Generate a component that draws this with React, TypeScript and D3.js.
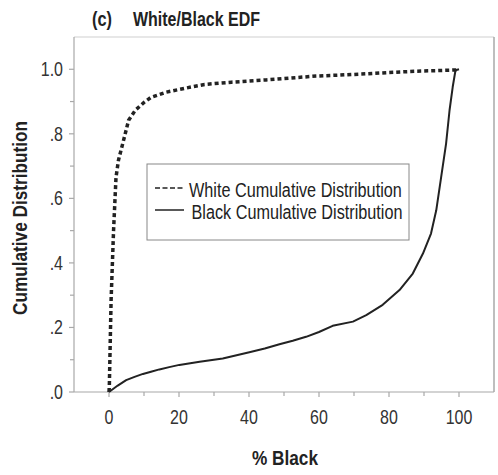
import React from "react";
import * as d3 from "d3";

// White cumulative distribution (x = % Black, y = cumulative share)
const whiteX = [0, 0.1, 0.6, 1.3, 2.0, 2.7, 4.4, 5.6, 7.5, 10.1, 12, 16.3, 21.6, 27.3, 35, 44.9, 52, 59.2, 66, 73.5, 80, 87.8, 94, 99.2, 100];
const whiteY = [0, 0.02, 0.285, 0.5, 0.665, 0.718, 0.79, 0.842, 0.873, 0.898, 0.913, 0.929, 0.941, 0.953, 0.96, 0.967, 0.973, 0.979, 0.982, 0.986, 0.99, 0.994, 0.996, 0.998, 1.0];

// Black cumulative distribution
const blackX = [0, 2.5, 4.9, 7.3, 9.7, 12, 14.4, 17.2, 20.1, 25.9, 32.5, 40.1, 44.5, 48.7, 52.5, 56.3, 60, 63.9, 69.7, 73.5, 78.2, 83, 86.8, 89.7, 92, 93.5, 94.9, 96.3, 97.3, 98.2, 99, 100];
const blackY = [0, 0.02, 0.037, 0.047, 0.056, 0.063, 0.07, 0.077, 0.084, 0.094, 0.104, 0.123, 0.135, 0.148, 0.159, 0.171, 0.186, 0.205, 0.218, 0.238, 0.27, 0.316, 0.367, 0.429, 0.491, 0.563, 0.666, 0.769, 0.873, 0.945, 0.997, 1.0];

const xMajor = [0, 20, 40, 60, 80, 100];
const xMinor = [10, 30, 50, 70, 90];
const yMajor = [0, 0.2, 0.4, 0.6, 0.8, 1.0];
const yMinor = [0.1, 0.3, 0.5, 0.7, 0.9];
const yLabels = [".0", ".2", ".4", ".6", ".8", "1.0"];
const legendLabels = ["White Cumulative Distribution", "Black Cumulative Distribution"];

const FONT = "'Liberation Sans', Arial, sans-serif";
const SX = 0.82; // horizontal condensing to mimic Arial Narrow

function NText(props: { x: number; y: number; rotate?: number; children: React.ReactNode; [k: string]: any }) {
  const { x, y, rotate, children, ...rest } = props;
  const tr = `translate(${x},${y})${rotate ? ` rotate(${rotate})` : ""} scale(${SX},1)`;
  return (
    <text transform={tr} {...rest}>
      {children}
    </text>
  );
}

export default function App() {
  const left = 74, right = 494, top = 37, bottom = 392;
  const x = d3.scaleLinear().domain([-10, 110]).range([left, right]);
  const y = d3.scaleLinear().domain([0, 1.1]).range([bottom, top]);
  const line = d3.line<[number, number]>().x(d => x(d[0])).y(d => y(d[1]));
  const whitePts = whiteX.map((v, i) => [v, whiteY[i]] as [number, number]);
  const blackPts = blackX.map((v, i) => [v, blackY[i]] as [number, number]);
  const ink = "#222";
  const axisCol = "#a8a8a8";

  return (
    <svg width={498} height={475} style={{ position: "absolute", left: 0, top: 0, background: "#fff" }} fontFamily={FONT}>
      {/* title */}
      <NText x={92} y={26} fontSize={20} fontWeight="bold" fill={ink}>(c)</NText>
      <NText x={133} y={26} fontSize={19.5} fontWeight="bold" fill={ink}>White/Black EDF</NText>

      {/* frame */}
      <line x1={left} x2={right} y1={top} y2={top} stroke="#d0d0d0" strokeWidth={1.2} />
      <line x1={right} x2={right} y1={top} y2={bottom} stroke={axisCol} strokeWidth={1.5} />
      <line x1={left} x2={left} y1={top} y2={bottom} stroke={axisCol} strokeWidth={1.2} />
      <line x1={left} x2={right} y1={bottom} y2={bottom} stroke={axisCol} strokeWidth={1.2} />

      {/* ticks */}
      {xMajor.map(v => (
        <line key={"xM" + v} x1={x(v)} x2={x(v)} y1={bottom} y2={bottom + 5} stroke={axisCol} strokeWidth={1.2} />
      ))}
      {xMinor.map(v => (
        <line key={"xm" + v} x1={x(v)} x2={x(v)} y1={bottom} y2={bottom + 4} stroke={axisCol} strokeWidth={1.2} />
      ))}
      {yMajor.map(v => (
        <line key={"yM" + v} x1={left - 5} x2={left} y1={y(v)} y2={y(v)} stroke={axisCol} strokeWidth={1.2} />
      ))}
      {yMinor.map(v => (
        <line key={"ym" + v} x1={left - 4} x2={left} y1={y(v)} y2={y(v)} stroke={axisCol} strokeWidth={1.2} />
      ))}

      {/* tick labels */}
      {xMajor.map(v => (
        <NText key={"xl" + v} x={x(v)} y={424} textAnchor="middle" fontSize={19.5} fill="#333">{v}</NText>
      ))}
      {yMajor.map((v, i) => (
        <NText key={"yl" + v} x={63} y={y(v) + 7} textAnchor="end" fontSize={19.5} fill="#333">{yLabels[i]}</NText>
      ))}

      {/* axis titles */}
      <NText x={285} y={465} textAnchor="middle" fontSize={21} fontWeight="bold" fill={ink}>% Black</NText>
      <NText x={27} y={218} rotate={-90} textAnchor="middle" fontSize={21} fontWeight="bold" fill={ink}>Cumulative Distribution</NText>

      {/* curves */}
      <path d={line(blackPts) || ""} fill="none" stroke={ink} strokeWidth={2} strokeLinejoin="round" />
      <path d={line(whitePts) || ""} fill="none" stroke={ink} strokeWidth={3.5} strokeDasharray="4,3" />

      {/* legend */}
      <rect x={147} y={164} width={262} height={76} fill="#fff" stroke="#888" strokeWidth={1} />
      <line x1={155} x2={185} y1={188} y2={188} stroke={ink} strokeWidth={1.4} strokeDasharray="5,2.5" />
      <NText x={189} y={196.5} fontSize={19.8} fill={ink}>{legendLabels[0]}</NText>
      <line x1={155} x2={184} y1={210} y2={210} stroke={ink} strokeWidth={1.5} />
      <NText x={191.5} y={218.5} fontSize={19.8} fill={ink}>{legendLabels[1]}</NText>
    </svg>
  );
}
